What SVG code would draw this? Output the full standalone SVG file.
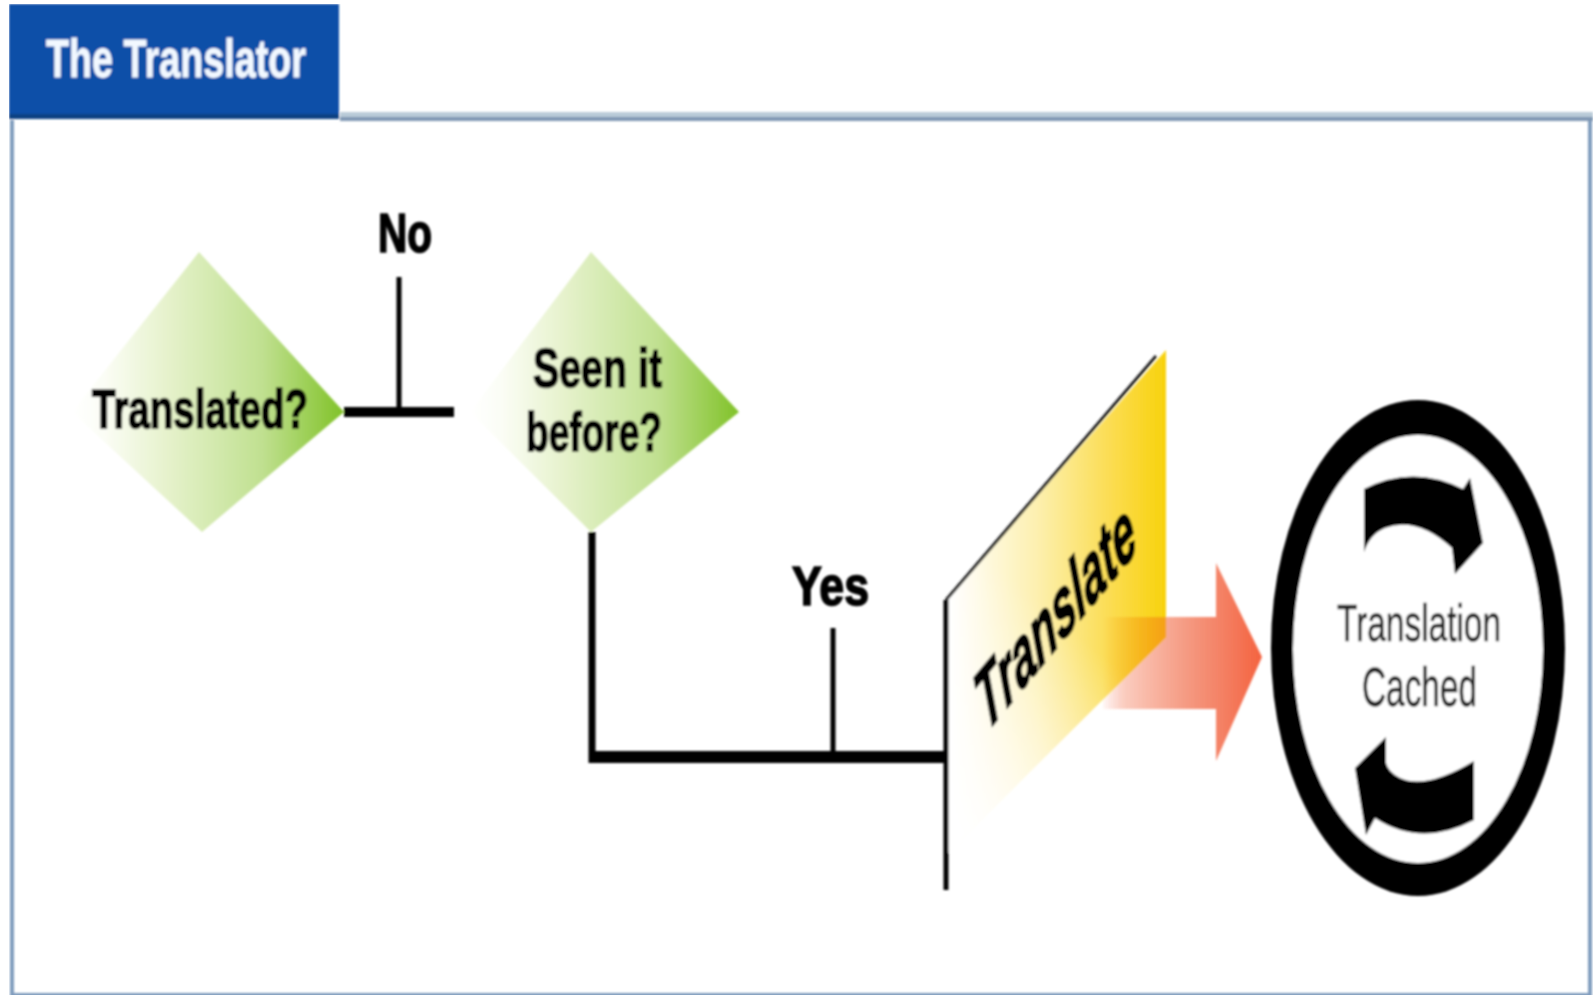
<svg xmlns="http://www.w3.org/2000/svg" width="1593" height="997" viewBox="0 0 1593 997">
<style>
text{font-family:"Liberation Sans",Arial,sans-serif;fill:#050505}
.b{font-weight:700;font-size:56px;stroke:#050505;stroke-width:1.7px}
.r{font-size:52px;fill:#222;stroke:#222;stroke-width:.5px}
.w{font-weight:700;font-size:54px;fill:#f2f8ff;stroke:#f2f8ff;stroke-width:.8px}
.c{fill:none;stroke:#050505;stroke-linecap:butt}
</style>
<defs>
<filter id="soft" x="0" y="0" width="100%" height="100%" filterUnits="objectBoundingBox"><feGaussianBlur stdDeviation="0.9"/></filter>
<linearGradient id="green" x1="0" y1="0" x2="1" y2="0">
<stop offset="0" stop-color="#ffffff"/><stop offset=".12" stop-color="#fbfdf5"/><stop offset=".35" stop-color="#e6f2cc"/><stop offset=".7" stop-color="#c0e090"/><stop offset="1" stop-color="#80c228"/>
</linearGradient>
<linearGradient id="yellow" gradientUnits="userSpaceOnUse" x1="950" y1="560" x2="1166" y2="560">
<stop offset="0" stop-color="#ffffff"/><stop offset=".4" stop-color="#fdf0b0"/><stop offset=".75" stop-color="#fbdc50"/><stop offset="1" stop-color="#f8d20c"/>
</linearGradient>
<linearGradient id="yfade" gradientUnits="userSpaceOnUse" x1="1110" y1="660" x2="960" y2="840">
<stop offset="0" stop-color="#fff" stop-opacity="0"/><stop offset="1" stop-color="#fff" stop-opacity="1"/>
</linearGradient>
<linearGradient id="red" gradientUnits="userSpaceOnUse" x1="1100" y1="0" x2="1262" y2="0">
<stop offset="0" stop-color="#f4664a" stop-opacity="0"/><stop offset=".15" stop-color="#f4805f" stop-opacity=".4"/><stop offset=".6" stop-color="#f3866a" stop-opacity=".9"/><stop offset="1" stop-color="#f4623f"/>
</linearGradient>
<linearGradient id="orange" gradientUnits="userSpaceOnUse" x1="1103" y1="0" x2="1166" y2="0">
<stop offset="0" stop-color="#f5a015" stop-opacity="0"/><stop offset="1" stop-color="#f5a015"/>
</linearGradient>
</defs>
<rect width="1593" height="997" fill="#fff"/>
<g filter="url(#soft)">
<g id="frame">
<path d="M12 120V995H1590V116" fill="none" stroke="#7f9bbd" stroke-width="4"/>
<rect x="340" y="112" width="1253" height="5" fill="#b9cbd8"/>
<rect x="340" y="117" width="1253" height="4" fill="#7f97b3"/>
</g>
<g id="title">
<rect x="9" y="4" width="330" height="114" fill="#0a4fa8"/>
<rect x="9" y="114" width="330" height="5" fill="#0c4283"/>
<text class="w" x="46" y="77" textLength="260" lengthAdjust="spacingAndGlyphs">The Translator</text>
</g>
<g id="connectors">
<path class="c" d="M344 412H454" stroke-width="10"/>
<path class="c" d="M399 277V412" stroke-width="5"/>
<path class="c" d="M592 532V763" stroke-width="7"/>
<path class="c" d="M589 757H946" stroke-width="12"/>
<path class="c" d="M833 628V757" stroke-width="5"/>
</g>
<g id="translated">
<polygon points="199,252 344,412 202,532 72,412" fill="url(#green)"/>
<text class="b" x="92" y="428" textLength="216" lengthAdjust="spacingAndGlyphs">Translated?</text>
</g>
<g id="no"><text class="b" x="378" y="252" textLength="54" lengthAdjust="spacingAndGlyphs">No</text></g>
<g id="seen">
<polygon points="591,252 739,412 591,532 470,412" fill="url(#green)"/>
<text class="b" x="533" y="387" textLength="129" lengthAdjust="spacingAndGlyphs">Seen it</text>
<text class="b" x="526" y="451" textLength="136" lengthAdjust="spacingAndGlyphs">before?</text>
</g>
<g id="yes"><text class="b" x="792" y="605" textLength="77" lengthAdjust="spacingAndGlyphs">Yes</text></g>
<g id="arrow">
<polygon points="1103,709 1103,617 1216,617 1216,563 1262,657 1216,761 1216,709" fill="url(#red)"/>
</g>
<g id="translate">
<polygon points="946,600 1166,350 1166,637 946,855" fill="url(#yellow)"/>
<polygon points="946,600 1166,350 1166,637 946,855" fill="url(#yfade)"/>
<polygon points="1103,617 1166,617 1166,637 1103,700" fill="url(#orange)"/>
<path d="M946 600L1156 356" fill="none" stroke="#222" stroke-width="3"/>
<path d="M946 600V890" fill="none" stroke="#050505" stroke-width="5"/>
<text transform="matrix(.64 -.77 .3 1 986 733)" font-weight="700" font-style="italic" font-size="74" textLength="240" lengthAdjust="spacingAndGlyphs" stroke="#050505" stroke-width="2.4">Translate</text>
</g>
<g id="cached">
<ellipse cx="1418" cy="648" rx="147" ry="248" fill="#050505"/>
<ellipse cx="1418" cy="649" rx="125" ry="214" fill="#fff"/>
<path d="M1364 489Q1413 464 1463 489L1470 478L1483 543L1455 574L1452 548Q1417 516 1385 528Q1370 534 1364 552Z" fill="#050505"/>
<path d="M1386 737L1355 768L1366 835L1375 818Q1421 848 1474 820V761Q1426 790 1400 778Q1388 772 1386 763Z" fill="#050505"/>
<text class="r" x="1337" y="641" textLength="164" lengthAdjust="spacingAndGlyphs">Translation</text>
<text class="r" x="1362" y="706" textLength="115" lengthAdjust="spacingAndGlyphs" style="font-size:55px">Cached</text>
</g>
</g>
</svg>
